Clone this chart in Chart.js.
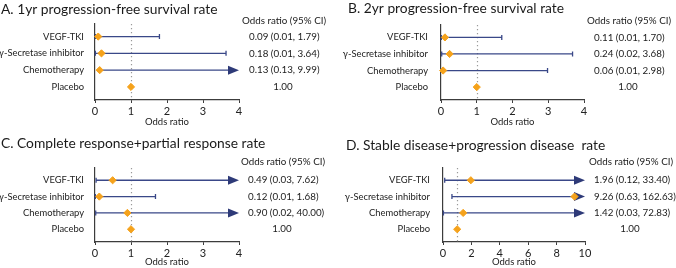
<!DOCTYPE html>
<html>
<head>
<meta charset="utf-8">
<script src="https://cdn.jsdelivr.net/npm/chart.js@4.4.1/dist/chart.umd.min.js"></script>
<style>
  body { margin: 0; background: #fff; }
  #wrap { position: relative; width: 676px; height: 268px; }
  canvas { position: absolute; }
</style>
</head>
<body>
<div id="wrap">
  <canvas id="panelA" width="336" height="134" style="left:0;top:0"></canvas>
  <canvas id="panelB" width="340" height="134" style="left:336px;top:0"></canvas>
  <canvas id="panelC" width="336" height="134" style="left:0;top:134px"></canvas>
  <canvas id="panelD" width="340" height="134" style="left:336px;top:134px"></canvas>
</div>
<script>
const categories = ["VEGF-TKI", "γ-Secretase inhibitor", "Chemotherapy", "Placebo"];

// odds ratio, lower and upper 95% CI per panel (placebo is the reference)
const titleA = "A. 1yr progression-free survival rate";
const orA = [0.09, 0.18, 0.13, 1.00];
const loA = [0.01, 0.01, 0.13, null];
const hiA = [1.79, 3.64, 9.99, null];

const titleB = "B. 2yr progression-free survival rate";
const orB = [0.11, 0.24, 0.06, 1.00];
const loB = [0.01, 0.02, 0.01, null];
const hiB = [1.70, 3.68, 2.98, null];

const titleC = "C. Complete response+partial response rate";
const orC = [0.49, 0.12, 0.90, 1.00];
const loC = [0.03, 0.01, 0.02, null];
const hiC = [7.62, 1.68, 40.00, null];

const titleD = "D. Stable disease+progression disease  rate";
const orD = [1.96, 9.26, 1.42, 1.00];
const loD = [0.12, 0.63, 0.03, null];
const hiD = [33.40, 162.63, 72.83, null];

const xTicksSmall = [0, 1, 2, 3, 4];
const xTicksLarge = [0, 2, 4, 6, 8, 10];

const FONT = "Lato, 'Open Sans', sans-serif";
const LINE = "#3a4888";
const ARROW = "#2e3a78";
const ORANGE = "#f5a21b";

const fmt = v => v.toFixed(2);

const forestLines = {
  id: "forestLines",
  beforeDatasetsDraw(chart) {
    const { ctx, chartArea: a, scales: { x, y } } = chart;
    const p = chart.options.plugins.forestLines;
    ctx.save();
    // reference line at OR = 1
    ctx.strokeStyle = "#9a9a9a";
    ctx.lineWidth = 1.2;
    ctx.setLineDash([1.3, 2.7]);
    const x1 = Math.round(x.getPixelForValue(1)) + 0.5;
    ctx.beginPath();
    ctx.moveTo(x1, a.top);
    ctx.lineTo(x1, a.bottom);
    ctx.stroke();
    ctx.setLineDash([]);
    p.lo.forEach((lo, i) => {
      if (lo === null) return;
      const hi = p.hi[i];
      const yy = y.getPixelForValue(i);
      const xl = x.getPixelForValue(Math.max(lo, x.min));
      const over = hi > x.max;
      const xr = over ? a.right - 9 : x.getPixelForValue(hi);
      ctx.strokeStyle = LINE;
      ctx.lineWidth = 1.3;
      ctx.beginPath();
      ctx.moveTo(xl, yy);
      ctx.lineTo(xr, yy);
      ctx.moveTo(xl, yy - 2.5);
      ctx.lineTo(xl, yy + 2.5);
      if (!over) {
        ctx.moveTo(xr, yy - 2.5);
        ctx.lineTo(xr, yy + 2.5);
      }
      ctx.stroke();
      if (over) {
        ctx.fillStyle = ARROW;
        ctx.beginPath();
        ctx.moveTo(a.right, yy);
        ctx.lineTo(a.right - 11, yy - 4.5);
        ctx.lineTo(a.right - 11, yy + 4.5);
        ctx.closePath();
        ctx.fill();
      }
    });
    ctx.restore();
  },
  afterDraw(chart) {
    const { ctx, scales: { y } } = chart;
    const p = chart.options.plugins.forestLines;
    ctx.save();
    ctx.fillStyle = "#1a1a1a";
    ctx.textBaseline = "middle";
    ctx.font = "13.8px " + FONT;
    ctx.textAlign = "left";
    ctx.fillText(p.title, p.titleX, p.titleY);
    ctx.font = "9.8px " + FONT;
    ctx.textAlign = "center";
    ctx.fillText("Odds ratio (95% CI)", p.colCenter, p.headY);
    p.or.forEach((v, i) => {
      const yy = y.getPixelForValue(i);
      if (p.lo[i] === null) {
        ctx.textAlign = "center";
        ctx.fillText(fmt(v), p.colCenter - 1, yy);
      } else {
        ctx.textAlign = "left";
        ctx.fillText(fmt(v) + " (" + fmt(p.lo[i]) + ", " + fmt(p.hi[i]) + ")", p.colLeft, yy);
      }
    });
    ctx.restore();
  }
};

function makePanel(id, cfg) {
  const canvas = document.getElementById(id);
  const W = canvas.width, H = canvas.height;
  return new Chart(canvas, {
    type: "scatter",
    data: {
      datasets: [{
        data: cfg.or.map((v, i) => ({ x: v, y: i })),
        pointStyle: "rectRot",
        pointRadius: 3.6,
        pointHoverRadius: 3.6,
        backgroundColor: ORANGE,
        borderColor: ORANGE,
        borderWidth: 1,
        clip: false
      }]
    },
    options: {
      responsive: false,
      animation: false,
      devicePixelRatio: 1,
      layout: { padding: { left: 0, top: cfg.top, right: W - cfg.right, bottom: cfg.padBottom } },
      plugins: {
        legend: { display: false },
        tooltip: { enabled: false },
        forestLines: {
          title: cfg.title, titleX: cfg.titleX, titleY: cfg.titleY,
          or: cfg.or, lo: cfg.lo, hi: cfg.hi,
          colCenter: cfg.colCenter, colLeft: cfg.colLeft, headY: cfg.headY
        }
      },
      scales: {
        x: {
          type: "linear",
          min: 0,
          max: cfg.xTicks[cfg.xTicks.length - 1],
          afterBuildTicks: s => { s.ticks = cfg.xTicks.map(v => ({ value: v })); },
          afterFit: s => { s.height = H - cfg.padBottom - cfg.bottom; },
          border: { color: "#3c3c3c", width: 1.2 },
          grid: { drawOnChartArea: false, drawTicks: true, tickLength: 3, color: "#3c3c3c" },
          ticks: { color: "#222", padding: 2, font: { family: FONT, size: 11 } },
          title: { display: true, text: "Odds ratio", color: "#222", padding: 0, font: { family: FONT, size: 9.5 } }
        },
        y: {
          type: "linear",
          reverse: true,
          min: -0.75,
          max: 3.78,
          afterBuildTicks: s => { s.ticks = categories.map((c, i) => ({ value: i })); },
          afterFit: s => { s.width = cfg.axisX; },
          border: { color: "#3c3c3c", width: 1.2 },
          grid: { display: false },
          ticks: { color: "#222", padding: cfg.labelPad, font: { family: FONT, size: 9.4 }, callback: v => categories[v] }
        }
      }
    },
    plugins: [forestLines]
  });
}

makePanel("panelA", { title: titleA, titleX: 1, titleY: 10, or: orA, lo: loA, hi: hiA, xTicks: xTicksSmall, labelPad: 3,
  axisX: 95, right: 239, top: 24, bottom: 100, padBottom: 6, colCenter: 284, colLeft: 249, headY: 21 });
makePanel("panelB", { title: titleB, titleX: 12, titleY: 9, or: orB, lo: loB, hi: hiB, xTicks: xTicksSmall, labelPad: 5,
  axisX: 105, right: 248, top: 25, bottom: 100, padBottom: 6, colCenter: 293, colLeft: 258, headY: 21 });
makePanel("panelC", { title: titleC, titleX: 1, titleY: 10, or: orC, lo: loC, hi: hiC, xTicks: xTicksSmall, labelPad: 3,
  axisX: 95, right: 239, top: 34, bottom: 108, padBottom: 0, colCenter: 283, colLeft: 248, headY: 28 });
makePanel("panelD", { title: titleD, titleX: 10, titleY: 12, or: orD, lo: loD, hi: hiD, xTicks: xTicksLarge, labelPad: 5,
  axisX: 107, right: 249, top: 34, bottom: 108, padBottom: 0, colCenter: 295, colLeft: 258, headY: 28 });
</script>
</body>
</html>
